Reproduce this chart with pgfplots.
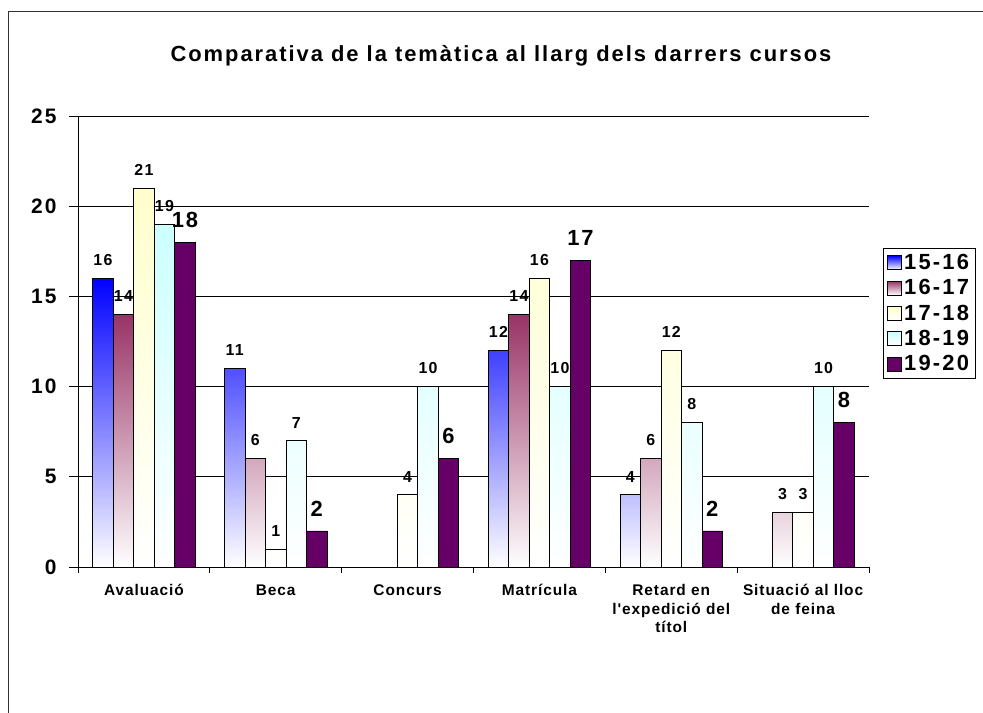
\documentclass[border=0pt]{standalone}
\usepackage{pgfplots}
\pgfplotsset{compat=1.18}
\usepackage{fontspec}
\setmainfont{Liberation Sans}
\newfontfamily\fT[LetterSpace=9]{Liberation Sans}
\newfontfamily\fY[LetterSpace=10]{Liberation Sans}
\newfontfamily\fC[LetterSpace=6]{Liberation Sans}
\newfontfamily\fL[LetterSpace=10]{Liberation Sans}
\newfontfamily\fD[LetterSpace=8]{Liberation Sans}
\definecolor{cA}{RGB}{0,0,255}
\definecolor{cB}{RGB}{153,51,102}
\definecolor{cC}{RGB}{255,255,204}
\definecolor{cD}{RGB}{204,255,255}
\definecolor{cE}{RGB}{102,0,102}
\begin{document}
\begin{tikzpicture}
\useasboundingbox (0,0) rectangle (983bp,-713bp);
\draw[black!80, line width=1bp] (8.5bp,-713bp) -- (8.5bp,-11bp) -- (983bp,-11bp);
\node[font={\fT\bfseries\fontsize{22}{24}\selectfont}] at (501bp,-56bp) {Comparativa de la temàtica al llarg dels darrers cursos};
\begin{axis}[
  at={(78bp,-567bp)}, anchor=south west,
  scale only axis, width=791bp, height=451bp,
  xmin=-0.5, xmax=5.5, ymin=0, ymax=25,
  ytick={0,5,10,15,20,25},
  ymajorgrids, grid style={black, line width=0.8bp},
  axis x line*=bottom, axis y line*=left,
  axis line style={black, line width=0.8bp},
  tick align=outside, major tick length=9bp,
  tick style={black, line width=0.8bp},
  /pgf/number format/assume math mode=true,
  yticklabel style={font={\fY\bfseries\fontsize{21}{24}\selectfont}, xshift=-9bp},
  xtick={0,1,2,3,4,5},
  xtick style={draw=none},
  xticklabels={Avaluació, Beca, Concurs, Matrícula, {Retard en\\l'expedició del\\títol}, {Situació al lloc\\de feina}},
  xticklabel style={font={\fC\bfseries\fontsize{15.5}{18.5}\selectfont}, align=center, anchor=north, yshift=-5bp},
  extra x ticks={-0.5,0.5,1.5,2.5,3.5,4.5,5.5},
  extra x tick labels={},
  extra x tick style={major tick length=6bp, xtick style={draw=black}},
  ybar=0pt, bar width=20.5bp,
  nodes near coords,
  every node near coord/.append style={font={\fD\bfseries\fontsize{16}{18}\selectfont}, black, yshift=9bp},
  legend style={at={(1.0177,0.7073)}, anchor=north west, draw=black, line width=0.8bp,
    font={\fL\bfseries\fontsize{22}{24}\selectfont}, row sep=4.5bp, inner xsep=4bp, inner ysep=4bp},
  legend cell align=left,
]
\pgfplotsset{every axis plot/.append style={draw=black, line width=0.8bp,
  legend image code/.code={\draw[##1, line width=0.8bp] (2bp,-7bp) rectangle (16bp,7bp);}}}
\addplot[top color=cA, bottom color=white] coordinates {(0,16) (1,11) (3,12) (4,4)};
\addplot[top color=cB, bottom color=white] coordinates {(0,14) (1,6) (3,14) (4,6) (5,3)};
\addplot[top color=cC, bottom color=white] coordinates {(0,21) (1,1) (2,4) (3,16) (4,12) (5,3)};
\addplot[top color=cD, bottom color=white] coordinates {(0,19) (1,7) (2,10) (3,10) (4,8) (5,10)};
\addplot[fill=cE, every node near coord/.append style={font={\fD\bfseries\fontsize{22}{24}\selectfont}, yshift=2bp}] coordinates {(0,18) (1,2) (2,6) (3,17) (4,2) (5,8)};
\legend{15-16,16-17,17-18,18-19,19-20}
\end{axis}
\end{tikzpicture}
\end{document}
